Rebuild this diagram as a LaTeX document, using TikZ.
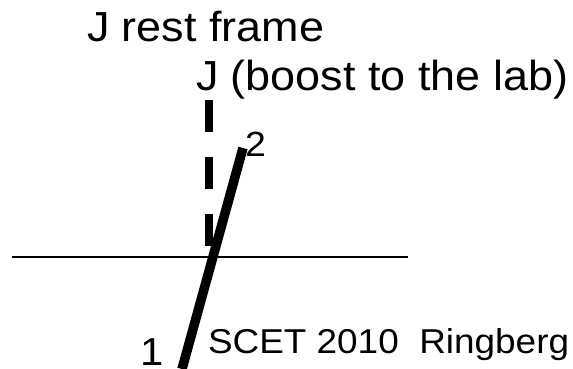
\documentclass[tikz,border=0pt]{standalone}
\usepackage{fontspec}
\setmainfont{Liberation Sans}[FakeStretch=1.07]
\begin{document}
\begin{tikzpicture}[x=1pt,y=1pt,
  lbl/.style={anchor=base west, inner sep=0pt, outer sep=0pt, text=black},
  axisline/.style={line width=2pt},
  restline/.style={line width=8pt, dash pattern=on 32pt off 25pt},
  boostline/.style={line width=9.5pt}]
\useasboundingbox (0,0) rectangle (573,368);
% horizontal axis
\coordinate (hl) at (12,111);
\coordinate (hr) at (408,111);
\draw[axisline] (hl) -- (hr);
% J rest frame axis (dashed)
\coordinate (dtop) at (209,268);
\coordinate (dbot) at (209,111);
\draw[restline] (dtop) -- (dbot);
% boosted axis
\coordinate (p1) at (182,-1);
\coordinate (p2) at (243,220);
\draw[boostline] (p1) -- (p2);
% labels
\node[lbl, font=\fontsize{42}{48}\selectfont] (title) at (87,327) {J rest frame};
\node[lbl, font=\fontsize{42}{48}\selectfont] (boost) at (196,278) {J (boost to the lab)};
\node[lbl, font=\fontsize{35}{40}\selectfont] (two) at (245,211.5) {2};
\node[lbl, font=\fontsize{39}{44}\selectfont] (one) at (140,2.5) {1};
\node[lbl, font=\fontsize{34.5}{40}\selectfont] (scet) at (208,15) {SCET 2010\ \ Ringberg};
\end{tikzpicture}
\end{document}
